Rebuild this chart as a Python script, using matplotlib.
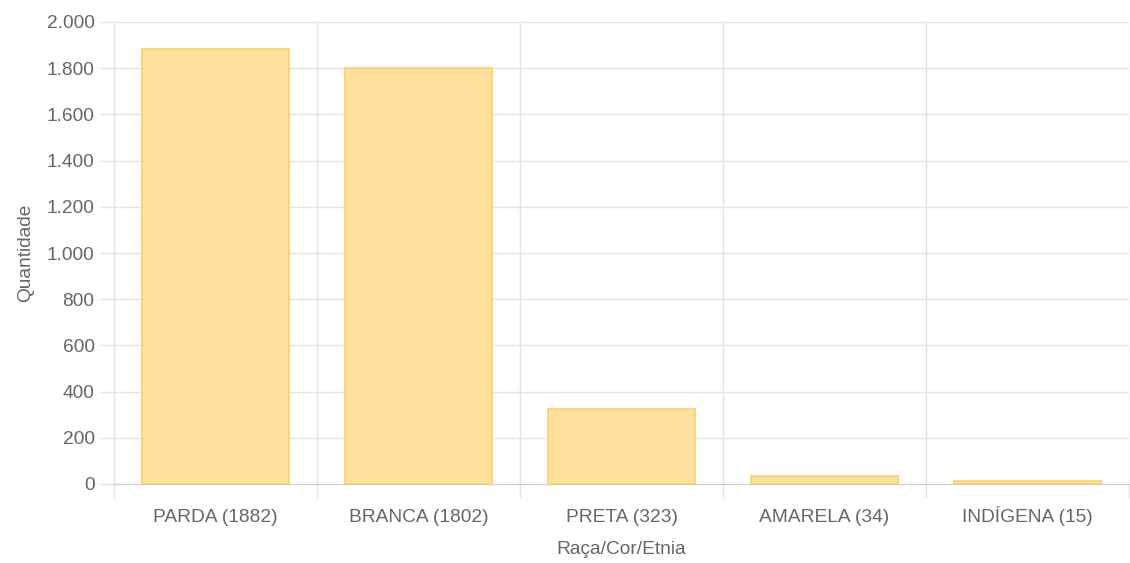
import numpy as np
import matplotlib.pyplot as plt
from matplotlib.ticker import FuncFormatter

categorias = ["PARDA", "BRANCA", "PRETA", "AMARELA", "INDÍGENA"]
quantidades = [1882, 1802, 323, 34, 15]
rotulos = [f"{c} ({q})" for c, q in zip(categorias, quantidades)]

plt.rcParams['font.family'] = ['Liberation Sans', 'DejaVu Sans']

fig = plt.figure(figsize=(11.3, 5.63), dpi=100)
ax = fig.add_axes([114/1130, 79/563, 1015/1130, 462/563])

x = np.arange(len(categorias))
ax.bar(x, quantidades, width=0.72, color='#fde19c', edgecolor='#fdd36a',
       linewidth=1.3, zorder=3)

ax.set_xlim(-0.5, len(categorias) - 0.5)
ax.set_ylim(0, 2000)
ax.set_yticks(np.arange(0, 2001, 200))
ax.yaxis.set_major_formatter(FuncFormatter(lambda v, p: f"{int(v):,}".replace(",", ".")))

ax.set_xticks(x)
ax.set_xticklabels(rotulos, va='baseline')
ax.set_xticks(np.arange(-0.5, len(categorias)), minor=True)

grid_c = '#e4e4e4'
ax.grid(axis='y', which='major', color=grid_c, linewidth=1, zorder=0)
ax.grid(axis='x', which='minor', color=grid_c, linewidth=1, zorder=0)
ax.tick_params(axis='x', which='major', length=0, pad=27.5, labelsize=13.8, labelcolor='#666666')
ax.tick_params(axis='x', which='minor', length=10, color=grid_c, width=1)
ax.tick_params(axis='y', length=10, color=grid_c, width=1, pad=4, labelsize=13.8, labelcolor='#666666')

for s in ['top', 'right']:
    ax.spines[s].set_visible(False)
ax.spines['left'].set_color(grid_c)
ax.spines['bottom'].set_color('#cccccc')

ax.set_ylabel("Quantidade", fontsize=13.8, color='#666666', labelpad=9)
ax.set_xlabel("Raça/Cor/Etnia", fontsize=13.8, color='#666666', labelpad=11)

fig.savefig("out.png", dpi=100)
